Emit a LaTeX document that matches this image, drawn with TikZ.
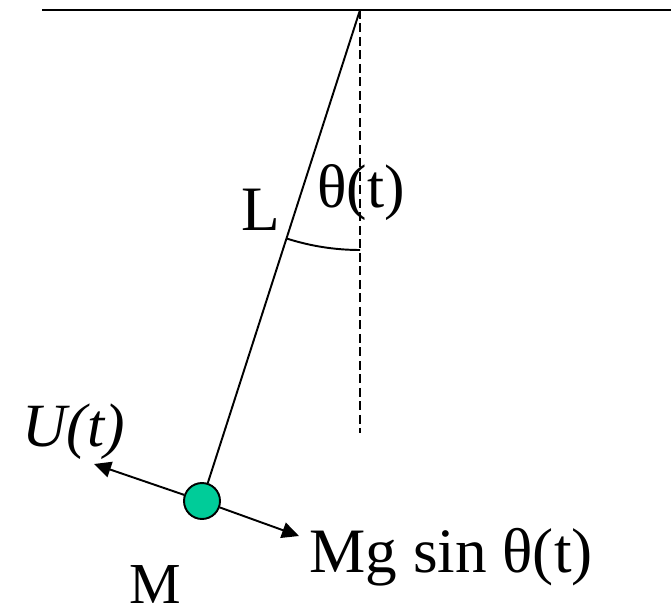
\documentclass[tikz,border=0pt]{standalone}
\usepackage{fontspec}
\setmainfont{Liberation Serif}
\usetikzlibrary{arrows.meta, positioning}
\definecolor{BobGreen}{HTML}{00CC99}
\tikzset{
  lbl/.style={font=\fontsize{#1}{#1}\selectfont, inner sep=0pt, anchor=base west},
  bob/.style={circle, draw=black, fill=BobGreen, line width=1.1pt,
              minimum size=0.72cm, inner sep=0pt},
}

\begin{document}
\begin{tikzpicture}[x=0.02cm, y=-0.02cm,
    rod/.style={line width=1.1pt},
    arr/.style={-{Triangle[length=0.34cm, width=0.32cm]}, line width=1.1pt},
  ]
  \useasboundingbox (0,0) rectangle (671,614);
  % ceiling and pivot
  \coordinate (left) at (42,10);
  \coordinate (right) at (671,10);
  \coordinate (pivot) at (360,10);
  \coordinate (vend) at (360,433);
  \draw[line width=1.2pt] (left) -- (right);
  \draw[rod, dash pattern=on 1.8mm off 0.9mm] (pivot) -- (vend);
  % pendulum
  \node[bob] (mass) at (202,501) {};
  \draw[rod] (pivot) -- (mass);
  \draw[rod] (pivot) ++(0,240) arc[start angle=270, end angle=252.2, radius=4.8cm];
  % forces
  \coordinate (utip) at (94,464);
  \coordinate (gtip) at (299,536);
  \draw[arr] (mass) -- (utip);
  \draw[arr] (mass) -- (gtip);
  % labels
  \node[lbl=36] (lenL) at (241,231) {L};
  \node[lbl=35] (angle) at (317,208) {θ(t)};
  \node[lbl=35] (force) at (22,446) {\itshape U(t)};
  \node[lbl=36] (grav) at (309,572) {Mg sin θ(t)};
  \node[lbl=33] (massM) at (129,603) {M};
\end{tikzpicture}
\end{document}
